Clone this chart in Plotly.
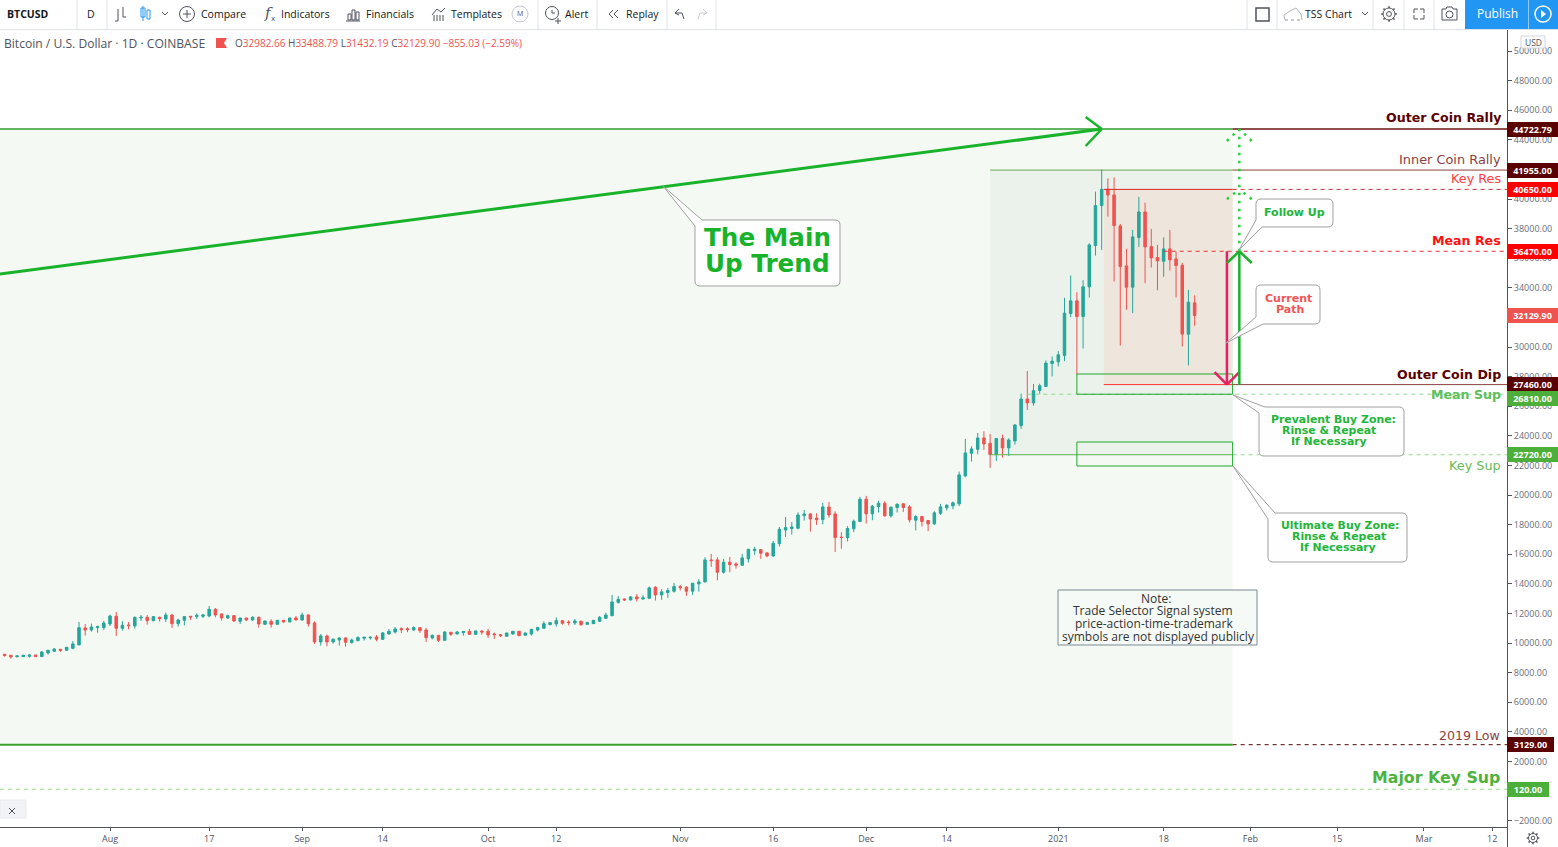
import math

import pandas as pd
import plotly.graph_objects as go

W = 1558
H = 847
AXIS_X = 1507
TOP_Y = 30
BOTTOM_Y = 827

opens = [
    9238, 9171, 9081, 9081, 9100, 9190, 9081, 9329, 9441, 9576,
    9509, 9644, 9868, 11016, 10881, 11039, 11039, 11286, 11804, 10994,
    11219, 11151, 11691, 11736, 11511, 11736, 11624, 11894, 11309, 11534,
    11804, 11781, 11804, 11826, 12276, 11961, 11691, 11849, 11466, 11691,
    11556, 11736, 11264, 11466, 11264, 11534, 11421, 11691, 11556, 11894,
    11354, 10071, 10476, 10071, 10206, 10341, 10026, 10161, 10319, 10341,
    10409, 10251, 10611, 10746, 10971, 10971, 10881, 11039, 10881, 10341,
    10521, 10184, 10724, 10611, 10701, 10791, 10589, 10814, 10791, 10611,
    10566, 10454, 10611, 10791, 10521, 10611, 10881, 10994, 11241, 11286,
    11511, 11421, 11354, 11466, 11264, 11309, 11466, 11669, 11849, 12749,
    12981, 12914, 13116, 12981, 13026, 13769, 13251, 13409, 13499, 13814,
    13769, 13499, 13994, 14129, 15614, 15614, 14781, 15456, 15344, 15254,
    15681, 16244, 16311, 16086, 15884, 16716, 17639, 17729, 17751, 18606,
    18719, 18449, 18336, 19191, 18719, 17151, 17129, 17714, 18208, 19716,
    18726, 19221, 19446, 18591, 19154, 19401, 19199, 18299, 18546, 18276,
    18051, 18771, 19131, 19266, 19401, 21291, 22821, 23091, 23856, 23496,
    22731, 23811, 23181, 23654, 24689, 26489, 26219, 27066, 27336, 28889,
    28999, 29429, 32264, 33119, 32061, 34064, 36854, 39554, 40656, 40274,
    38181, 35481, 34041, 37394, 39126, 36786, 36044, 35796, 36629, 35954,
    35526, 30869, 32982.66,
]
highs = [
    9260, 9190, 9171, 9185, 9260, 9190, 9441, 9531, 9644, 9599,
    9734, 10138, 11421, 11286, 11309, 11174, 11489, 11916, 12096, 11466,
    11421, 11781, 11894, 11894, 11826, 11781, 12051, 11939, 11646, 11826,
    11826, 12006, 11961, 12501, 12366, 11984, 11916, 11894, 11691, 11691,
    11804, 11781, 11511, 11601, 11534, 11556, 11691, 11826, 12051, 11939,
    11466, 10611, 10566, 10319, 10386, 10386, 10296, 10454, 10409, 10454,
    10544, 10746, 10949, 11084, 11061, 11061, 11129, 11061, 11016, 10566,
    10521, 10791, 10724, 10814, 10814, 10949, 10836, 10836, 10949, 10701,
    10611, 10679, 10814, 10814, 10701, 10949, 11106, 11466, 11421, 11736,
    11556, 11534, 11624, 11511, 11444, 11556, 11826, 12051, 13244, 13176,
    13004, 13161, 13319, 13229, 13814, 13836, 13634, 13724, 14061, 13904,
    13836, 14061, 14309, 15794, 16019, 15794, 15681, 15816, 15456, 16019,
    16356, 16491, 16311, 16154, 16896, 17841, 18516, 18179, 18831, 18989,
    18786, 18764, 19461, 19529, 18899, 17489, 17894, 18344, 19874, 19941,
    19334, 19604, 19581, 19221, 19424, 19446, 19311, 18636, 18591, 18321,
    18906, 19401, 19379, 19559, 21584, 23789, 23294, 24194, 24306, 24126,
    23856, 24081, 23834, 24779, 26849, 28379, 27501, 27516, 29091, 29361,
    29721, 33321, 34829, 33704, 34514, 37011, 40499, 42006, 41399, 41466,
    38316, 36629, 37911, 40139, 39756, 37979, 36899, 37416, 37911, 36449,
    35684, 33861, 33488.79,
]
lows = [
    9080, 8946, 9014, 9060, 9014, 9081, 9058, 9216, 9396, 9396,
    9464, 9576, 9868, 10499, 10769, 10701, 10881, 11151, 10476, 10836,
    10926, 10971, 11489, 11241, 11466, 11466, 11421, 11016, 11106, 11196,
    11556, 11624, 11691, 11736, 11736, 11511, 11624, 11421, 11286, 11489,
    11511, 11039, 11219, 11039, 11219, 11376, 11421, 11534, 11511, 11106,
    9936, 9824, 9779, 9959, 9824, 9756, 9959, 10116, 10161, 10229,
    10116, 10206, 10566, 10634, 10679, 10724, 10836, 10679, 10071, 10251,
    10071, 10139, 10476, 10566, 10499, 10566, 10544, 10566, 10341, 10274,
    10409, 10454, 10566, 10454, 10499, 10499, 10791, 10949, 11196, 11106,
    11241, 11196, 11219, 11151, 11219, 11286, 11421, 11624, 11804, 12659,
    12846, 12869, 12800, 12914, 12959, 12869, 12914, 13049, 13409, 13544,
    13184, 13251, 13476, 14084, 15141, 14241, 14691, 14781, 15029, 15209,
    15434, 15951, 15681, 15794, 15816, 16514, 17166, 17324, 17684, 18269,
    17526, 17976, 18021, 18471, 16154, 16364, 16859, 17489, 18186, 18074,
    18299, 18816, 18546, 18479, 18816, 18861, 18141, 17601, 17871, 17556,
    17984, 18659, 18951, 19041, 19244, 21201, 22259, 22754, 23046, 21831,
    22304, 22529, 22641, 23406, 24464, 25746, 26039, 26841, 27291, 28011,
    28686, 29046, 32016, 28146, 29901, 33344, 36179, 36561, 38811, 34424,
    30104, 32511, 32286, 36764, 34311, 35369, 33839, 34739, 35166, 33344,
    30036, 28754, 31432.19,
]
closes = [
    9148, 9058, 9126, 9171, 9190, 9081, 9396, 9509, 9599, 9509,
    9711, 9936, 11039, 10881, 11084, 11106, 11354, 11826, 10994, 11196,
    11174, 11736, 11736, 11511, 11781, 11646, 11894, 11309, 11556, 11781,
    11759, 11871, 11894, 12276, 11894, 11691, 11849, 11489, 11691, 11556,
    11736, 11286, 11489, 11264, 11534, 11421, 11691, 11556, 11894, 11309,
    10071, 10476, 10071, 10251, 10341, 10049, 10206, 10364, 10386, 10386,
    10251, 10679, 10791, 10949, 10904, 10904, 11039, 10836, 10364, 10521,
    10184, 10746, 10589, 10746, 10769, 10589, 10814, 10746, 10544, 10566,
    10499, 10679, 10791, 10499, 10679, 10926, 11039, 11309, 11376, 11511,
    11331, 11376, 11489, 11241, 11376, 11534, 11736, 11894, 12771, 12951,
    12914, 13116, 12981, 13049, 13724, 13251, 13454, 13544, 13814, 13746,
    13499, 14039, 14129, 15614, 15569, 14781, 15456, 15299, 15254, 15749,
    16334, 16334, 16064, 15884, 16739, 17684, 17796, 17841, 18651, 18719,
    18381, 18336, 19191, 18651, 17121, 17129, 17736, 18231, 19716, 18726,
    19244, 19446, 18591, 19176, 19379, 19154, 18321, 18546, 18209, 18051,
    18794, 19199, 19311, 19469, 21359, 22844, 23114, 23856, 23451, 22731,
    23811, 23181, 23721, 24734, 26489, 26219, 27051, 27381, 28911, 29046,
    29474, 32286, 33119, 32061, 34064, 36899, 39554, 40656, 40274, 38204,
    35436, 34041, 37439, 39126, 36764, 36021, 35819, 36629, 35886, 35504,
    30869, 33029, 32129.90,
]
dates = pd.date_range("2020-07-15", periods=len(opens), freq="D")

x_tick_dates = ["2020-08-01", "2020-08-17", "2020-09-01", "2020-09-14", "2020-10-01", "2020-10-12",
                "2020-11-01", "2020-11-16", "2020-12-01", "2020-12-14", "2021-01-01", "2021-01-18",
                "2021-02-01", "2021-02-15", "2021-03-01", "2021-03-12"]
x_tick_labels = ["Aug", "17", "Sep", "14", "Oct", "12", "Nov", "16", "Dec", "14", "2021", "18",
                 "Feb", "15", "Mar", "12"]
# 0, 32000 and 42000 sit fully behind the price tags, so they are left out
y_ticks = [v for v in range(-2000, 50001, 2000) if v not in (0, 32000, 42000)]
y_tick_labels = [f"{v:.2f}".replace("-", "\u2212") for v in y_ticks]

X_START = "2020-07-14 06:00"
X_END = "2021-03-14 09:30"
Y_MIN = -2432
Y_MAX = 51419

ZONE_L = "2020-12-21"
RECT_L = "2021-01-04"
RED_L = "2021-01-08 08:00"
ZONE_R = "2021-01-29 03:00"
DIP_X = "2021-01-28 05:00"
UP_X = "2021-01-30 05:00"

# price levels drawn on the chart
OUTER_RALLY = 44722.79
INNER_RALLY = 41955
KEY_RES = 40650
MEAN_RES = 36470
CURRENT = 32129.90
OUTER_DIP = 27460
MEAN_SUP = 26810
KEY_SUP = 22720
LOW_2019 = 3129
MAJOR_SUP = 120

GREEN = "#19b22b"
LIGHT_GREEN = "#8fdc8a"
MAROON = "#5a0000"
BROWN = "#8e4040"
DASH = "4px,4px"
DOTS = "2.5px,5.5px"


def px(x):
    return x / W


def py(y):
    return 1 - y / H


def pts(points):
    return " L ".join(f"{px(x):.5f},{py(y):.5f}" for x, y in points)


shapes = []
annotations = []


def rect(x0, x1, y0, y1, fill=None, line=None, layer="above", width=1):
    shapes.append(dict(type="rect", xref="x", yref="y", x0=x0, x1=x1, y0=y0, y1=y1, layer=layer,
                       fillcolor=fill if fill else "rgba(0,0,0,0)",
                       line=dict(color=line if line else "rgba(0,0,0,0)", width=width)))


def seg(x0, y0, x1, y1, color, width=1, dash="solid"):
    shapes.append(dict(type="line", xref="x", yref="y", x0=x0, x1=x1, y0=y0, y1=y1, layer="above",
                       line=dict(color=color, width=width, dash=dash)))


def chevron(x, tip, arm_y, color, width, dash="solid", days=2):
    t = pd.Timestamp(x)
    seg(t - pd.Timedelta(days=days), arm_y, t, tip, color, width, dash)
    seg(t + pd.Timedelta(days=days), arm_y, t, tip, color, width, dash)


def chrome(points, color="#50535e", width=1, fill=None, closed=False):
    d = "M " + pts(points) + (" Z" if closed else "")
    shapes.append(dict(type="path", xref="paper", yref="paper", path=d, layer="above",
                       fillcolor=fill if fill else "rgba(0,0,0,0)",
                       line=dict(color=color if color else "rgba(0,0,0,0)", width=width)))


def circle(cx, cy, r, color="#50535e", width=1, fill=None, dash="solid"):
    shapes.append(dict(type="circle", xref="paper", yref="paper", x0=px(cx - r), x1=px(cx + r),
                       y0=py(cy + r), y1=py(cy - r), layer="above",
                       fillcolor=fill if fill else "rgba(0,0,0,0)",
                       line=dict(color=color, width=width, dash=dash)))


def gear(cx, cy, r):
    circle(cx, cy, r)
    circle(cx, cy, r * 0.4)
    for i in range(8):
        a = i * math.pi / 4
        chrome([(cx + r * math.cos(a), cy + r * math.sin(a)),
                (cx + (r + 1.8) * math.cos(a), cy + (r + 1.8) * math.sin(a))], width=1.5)


def text(x, y, s, size, color, bold=False, anchor="center", font="DejaVu Sans"):
    annotations.append(dict(xref="paper", yref="paper", x=px(x), y=py(y), text=f"<b>{s}</b>" if bold else s,
                            showarrow=False, xanchor=anchor, yanchor="middle", borderpad=0, borderwidth=0,
                            font=dict(size=size, color=color, family=font)))


def callout(x0, y0, x1, y1, tip, base_a, base_b, corner="tl", r=5):
    p = lambda x, y: f"{px(x):.5f},{py(y):.5f}"
    if corner == "tl":
        d = (f"M {p(*base_a)} L {p(x1 - r, y0)} Q {p(x1, y0)} {p(x1, y0 + r)} L {p(x1, y1 - r)} "
             f"Q {p(x1, y1)} {p(x1 - r, y1)} L {p(x0 + r, y1)} Q {p(x0, y1)} {p(x0, y1 - r)} "
             f"L {p(*base_b)} L {p(*tip)} Z")
    else:
        d = (f"M {p(x0, y0 + r)} Q {p(x0, y0)} {p(x0 + r, y0)} L {p(x1 - r, y0)} Q {p(x1, y0)} {p(x1, y0 + r)} "
             f"L {p(x1, y1 - r)} Q {p(x1, y1)} {p(x1 - r, y1)} L {p(*base_a)} L {p(*tip)} L {p(*base_b)} Z")
    shapes.append(dict(type="path", xref="paper", yref="paper", path=d, layer="above", fillcolor="#fdfefd",
                       line=dict(color="#a0a0a0", width=1)))


def tag(value, label, color, width=51, shift=0):
    annotations.append(dict(xref="paper", yref="y", x=px(AXIS_X), y=value, yshift=shift, text=f"<b>{label}</b>",
                            showarrow=False, xanchor="left", yanchor="middle", width=width, height=15,
                            bgcolor=color, borderpad=0, borderwidth=0, align="center",
                            font=dict(size=9, color="white", family="Open Sans")))


# background zones
rect(X_START, ZONE_R, LOW_2019, OUTER_RALLY, fill="#f4f9f3", layer="below")
rect(ZONE_L, ZONE_R, KEY_SUP, INNER_RALLY, fill="#ebf2eb", layer="below")
rect(RED_L, ZONE_R, OUTER_DIP, KEY_RES, fill="#eee5dd", layer="below")

# level lines
seg(X_START, OUTER_RALLY, ZONE_R, OUTER_RALLY, "#2e9e2e", 1.5)
seg(ZONE_R, OUTER_RALLY, X_END, OUTER_RALLY, "#6b0f0f", 1.5)
seg(ZONE_L, INNER_RALLY, ZONE_R, INNER_RALLY, "#6aa84f", 1)
seg(ZONE_R, INNER_RALLY, X_END, INNER_RALLY, BROWN, 1)
seg(RED_L, KEY_RES, ZONE_R, KEY_RES, "#e02020", 1)
seg(ZONE_R, KEY_RES, X_END, KEY_RES, "#e53030", 1, DASH)
seg("2021-01-18", MEAN_RES, X_END, MEAN_RES, "#e53030", 1, DASH)
seg(RED_L, OUTER_DIP, ZONE_R, OUTER_DIP, "#ff3030", 1)
seg(ZONE_R, OUTER_DIP, X_END, OUTER_DIP, BROWN, 1)
seg("2020-12-27", MEAN_SUP, X_END, MEAN_SUP, LIGHT_GREEN, 1, DASH)
seg(ZONE_L, KEY_SUP, ZONE_R, KEY_SUP, "#5cb04f", 1)
seg(ZONE_R, KEY_SUP, X_END, KEY_SUP, LIGHT_GREEN, 1, DASH)
seg(X_START, LOW_2019, ZONE_R, LOW_2019, "#3f9f2f", 2)
seg(ZONE_R, LOW_2019, X_END, LOW_2019, MAROON, 1, DASH)
seg(X_START, MAJOR_SUP, X_END, MAJOR_SUP, LIGHT_GREEN, 1, DASH)

# buy zones
rect(RECT_L, ZONE_R, MEAN_SUP, 28176, line="#1faa2a")
rect(RECT_L, ZONE_R, 21959, 23581, line="#1faa2a")

# main trend and its arrow head
seg(X_START, 34932, "2021-01-08", OUTER_RALLY, GREEN, 3)
seg("2021-01-05 10:00", 45540, "2021-01-08", OUTER_RALLY, GREEN, 2.5)
seg("2021-01-05 10:00", 43581, "2021-01-08", OUTER_RALLY, GREEN, 2.5)

# path arrows
seg(DIP_X, MEAN_RES, DIP_X, OUTER_DIP, "#e91e63", 2.5)
chevron(DIP_X, OUTER_DIP, 28310, "#e91e63", 2.5)
seg(UP_X, OUTER_DIP, UP_X, MEAN_RES, GREEN, 2.5)
chevron(UP_X, MEAN_RES, 35676, GREEN, 2.5)
seg(UP_X, MEAN_RES, UP_X, OUTER_RALLY, "#2ecc40", 2.5, DOTS)
chevron(UP_X, OUTER_RALLY, 43919, "#2ecc40", 2.5, DOTS)
chevron(UP_X, KEY_RES, 39990, "#2ecc40", 2.5, DOTS)

# callouts
callout(695, 220, 840, 286, (663, 186), (702, 220), (695, 226))
text(767, 238, "The Main", 24.7, GREEN, True)
text(767, 263, "Up Trend", 24.7, GREEN, True)
callout(1256, 199, 1333, 227, (1239, 250), (1262, 227), (1256, 220), "bl")
text(1294.5, 212.5, "Follow Up", 11, "#22b53a", True)
callout(1256, 285, 1320, 324, (1226, 343), (1263, 324), (1256, 317), "bl")
text(1288, 298, "Current", 11, "#f25555", True)
text(1290, 309, "Path", 11, "#f25555", True)
callout(1259, 407, 1404, 456, (1233, 395), (1265, 407), (1259, 413))
text(1333, 419.5, "Prevalent Buy Zone:", 10.9, "#22b53a", True)
text(1329, 430.5, "Rinse &amp; Repeat", 10.9, "#22b53a", True)
text(1329, 441.5, "If Necessary", 10.9, "#22b53a", True)
callout(1268, 513, 1407, 562, (1233, 466), (1275, 513), (1268, 519))
text(1340, 525.5, "Ultimate Buy Zone:", 10.9, "#22b53a", True)
text(1339, 536.5, "Rinse &amp; Repeat", 10.9, "#22b53a", True)
text(1338, 547.5, "If Necessary", 10.9, "#22b53a", True)

# note box
chrome([(1058, 590), (1257, 590), (1257, 645), (1058, 645)], color="#7a8a94", fill="#f6faf6", closed=True)
text(1156, 598, "Note:", 12, "#333333", font="Open Sans")
text(1153, 610.5, "Trade Selector Signal system", 12, "#333333", font="Open Sans")
text(1154, 623, "price-action-time-trademark", 12, "#333333", font="Open Sans")
text(1158, 636, "symbols are not displayed publicly", 12, "#333333", font="Open Sans")

# level names
text(1501, 117.5, "Outer Coin Rally", 12.6, MAROON, True, "right")
text(1501, 159.5, "Inner Coin Rally", 12.9, BROWN, anchor="right")
text(1501, 178, "Key Res", 12.8, "#ff4040", anchor="right")
text(1500.5, 240.5, "Mean Res", 12.6, "#ff1010", True, "right")
text(1501, 374.5, "Outer Coin Dip", 12.6, MAROON, True, "right")
text(1501, 394, "Mean Sup", 12.6, "#5cc05c", True, "right")
text(1501, 465, "Key Sup", 12.8, "#66bb55", anchor="right")
text(1500, 735, "2019 Low", 12.6, BROWN, anchor="right")
text(1500, 777.5, "Major Key Sup", 15.8, "#4cb33c", True, "right")

# price tags on the axis
tag(OUTER_RALLY, "44722.79", MAROON)
tag(INNER_RALLY, "41955.00", MAROON)
tag(KEY_RES, "40650.00", "#ff0000")
tag(MEAN_RES, "36470.00", "#ff0000")
tag(CURRENT, "32129.90", "#ef5350")
tag(OUTER_DIP, "27460.00", MAROON)
tag(MEAN_SUP, "26810.00", "#4caf3a", shift=-4.5)
tag(KEY_SUP, "22720.00", "#4caf3a")
tag(LOW_2019, "3129.00", MAROON, width=47)
tag(MAJOR_SUP, "120.00", "#4caf3a", width=42)

# toolbar
SEP = "#e0e3eb"
chrome([(0, 29.5), (W, 29.5)], color=SEP)
for sx in [77, 107, 538, 597, 667, 716, 1247, 1277, 1373, 1404, 1434]:
    chrome([(sx, 0), (sx, 29)], color=SEP)
shapes.append(dict(type="rect", xref="paper", yref="paper", x0=px(1465), x1=px(W), y0=py(29), y1=1,
                   fillcolor="#2196f3", line=dict(width=0), layer="above"))
chrome([(1528.5, 0), (1528.5, 29)], color="#8cc8f8")
TB = "#131722"
text(7, 14, "BTCUSD", 10.5, TB, True, "left", "Open Sans")
text(91, 14, "D", 10.5, TB, font="Open Sans")
text(201, 14, "Compare", 10.5, TB, anchor="left", font="Open Sans")
text(281, 14, "Indicators", 10.5, TB, anchor="left", font="Open Sans")
text(366, 14, "Financials", 10.5, TB, anchor="left", font="Open Sans")
text(451, 14, "Templates", 10.5, TB, anchor="left", font="Open Sans")
text(565, 14, "Alert", 10.5, TB, anchor="left", font="Open Sans")
text(626, 14, "Replay", 10.5, TB, anchor="left", font="Open Sans")
text(1305, 14, "TSS Chart", 10.5, TB, anchor="left", font="Open Sans")
text(1497, 14, "Publish", 12, "white", anchor="center", font="Open Sans")
text(268, 13, "<i>f</i>", 15, "#50535e", font="DejaVu Serif")
text(273, 18, "x", 8, "#50535e", font="Open Sans")
text(520, 14, "M", 7, "#50535e", font="Open Sans")
circle(520, 14, 8, color="#c8cad0")
# bars, candles
chrome([(118, 9), (118, 21), (115, 21)])
chrome([(123, 7), (123, 17), (126, 17)])
chrome([(141, 8), (145, 8), (145, 17), (141, 17)], color="#2196f3", closed=True)
chrome([(143, 6), (143, 21)], color="#2196f3")
chrome([(147, 10), (150, 10), (150, 19), (147, 19)], color="#2196f3", closed=True)
chrome([(162, 12), (165, 15), (168, 12)])
circle(187, 14, 7.5)
chrome([(183, 14), (191, 14)])
chrome([(187, 10), (187, 18)])
for bx, top in [(348, 14), (352, 10), (356, 12)]:
    chrome([(bx, 20), (bx, top), (bx + 3, top), (bx + 3, 20)], closed=True)
chrome([(346, 21), (360, 21)])
chrome([(432, 15), (437, 9), (441, 12), (445, 8)])
for bx in [434, 437, 440, 443]:
    chrome([(bx, 21), (bx, 15)])
circle(552, 13, 6.5)
chrome([(552, 10), (552, 13), (555, 13)])
chrome([(558, 18), (558, 24)])
chrome([(555, 21), (561, 21)])
chrome([(613, 10), (609, 14), (613, 18)])
chrome([(618, 10), (614, 14), (618, 18)])
chrome([(675, 13), (679, 9)])
chrome([(675, 13), (679, 15)])
chrome([(675, 13), (682, 13), (684, 19)])
chrome([(707, 13), (703, 9)], color="#c8cad0")
chrome([(707, 13), (703, 15)], color="#c8cad0")
chrome([(707, 13), (700, 13), (698, 19)], color="#c8cad0")
chrome([(1256, 8), (1269, 8), (1269, 21), (1256, 21)], closed=True, width=1.5)
shapes.append(dict(type="path", xref="paper", yref="paper", layer="above",
                   path="M " + pts([(1285, 20), (1300, 20)]), line=dict(color="#9598a1", width=1, dash="dot")))
chrome([(1285, 20), (1284, 15), (1290, 11), (1296, 8), (1301, 14), (1302, 20)], color="#b2b5be")
chrome([(1362, 12), (1365, 15), (1368, 12)])
gear(1389, 14, 6)
for cx, cy, sx, sy in [(1414, 9, 1, 1), (1424, 9, -1, 1), (1414, 19, 1, -1), (1424, 19, -1, -1)]:
    chrome([(cx + 4 * sx, cy), (cx, cy), (cx, cy + 4 * sy)])
chrome([(1442, 9), (1446, 9), (1447, 7), (1452, 7), (1453, 9), (1457, 9), (1457, 20), (1442, 20)], closed=True)
circle(1449.5, 14.5, 3.5)
circle(1543, 14, 8, color="white", width=1.5)
chrome([(1541, 10), (1546, 14), (1541, 18)], color=None, fill="white", closed=True)

# header
text(4, 43, "Bitcoin / U.S. Dollar \u00b7 1D \u00b7 COINBASE", 12.1, "#50535e", anchor="left", font="Open Sans")
chrome([(216, 38), (227, 38), (224, 43), (227, 48), (216, 48)], color=None, fill="#ef5350", closed=True)
text(235, 43, "<span style='color:#50535e'>O</span>32982.66 <span style='color:#50535e'>H</span>33488.79 "
              "<span style='color:#50535e'>L</span>31432.19 <span style='color:#50535e'>C</span>32129.90 "
              "\u2212855.03 (\u22122.59%)", 10, "#ef5350", anchor="left", font="Open Sans")

# small widgets around the axes
chrome([(1521, 36), (1545, 36), (1545, 48), (1521, 48)], color="#d1d4dc", fill="white", closed=True)
text(1533, 42, "USD", 8.5, "#50535e", font="Open Sans")
chrome([(0, 800), (26, 800), (26, 818), (0, 818)], color="#e8eaee", fill="#f1f3f6", closed=True)
chrome([(9, 808), (15, 814)])
chrome([(15, 808), (9, 814)])
gear(1533, 838, 4.5)
chrome([(1507.5, 827), (1507.5, H)])

fig = go.Figure(go.Candlestick(
    x=dates, open=opens, high=highs, low=lows, close=closes,
    increasing=dict(line=dict(color="#26a69a", width=1), fillcolor="#26a69a"),
    decreasing=dict(line=dict(color="#ef5350", width=1), fillcolor="#ef5350"),
    whiskerwidth=0, showlegend=False,
))

fig.update_layout(
    width=W,
    height=H,
    autosize=False,
    margin=dict(l=0, r=0, t=0, b=0),
    paper_bgcolor="white",
    plot_bgcolor="white",
    showlegend=False,
    boxgap=0.42,
    shapes=shapes,
    annotations=annotations,
    xaxis=dict(
        domain=[0, AXIS_X / W],
        range=[X_START, X_END],
        type="date",
        rangeslider=dict(visible=False),
        showgrid=False,
        zeroline=False,
        showline=True,
        linecolor="#50535e",
        linewidth=1,
        ticks="outside",
        ticklen=3,
        tickcolor="#50535e",
        tickmode="array",
        tickvals=x_tick_dates,
        ticktext=x_tick_labels,
        tickfont=dict(family="Open Sans", size=9, color="#50535e"),
    ),
    yaxis=dict(
        domain=[1 - BOTTOM_Y / H, 1 - TOP_Y / H],
        range=[Y_MIN, Y_MAX],
        side="right",
        showgrid=False,
        zeroline=False,
        showline=True,
        linecolor="#50535e",
        linewidth=1,
        ticks="outside",
        ticklen=4,
        tickcolor="#50535e",
        tickmode="array",
        tickvals=y_ticks,
        ticktext=y_tick_labels,
        tickfont=dict(family="Open Sans", size=9, color="#6a6d78"),
    ),
)

fig.write_html("out.html", config=dict(displayModeBar=False),
               post_script="document.body.style.margin='0';document.body.style.overflow='hidden';")
